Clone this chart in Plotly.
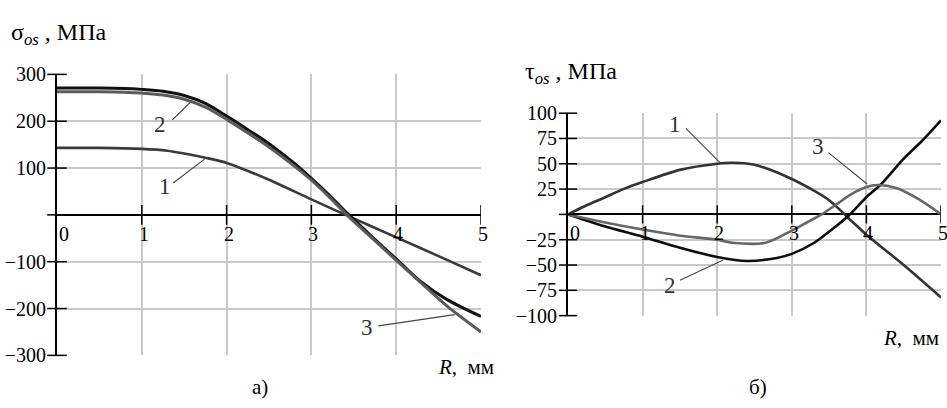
import plotly.graph_objects as go

# ---------------- data ----------------
# Panel a) sigma_os, MPa
R_a1 = [0, 0.5, 1.0, 1.3, 1.5, 1.75, 2.0, 2.5, 3.0, 3.43, 4.0, 4.5, 5.0]
sigma_1 = [143, 143, 141, 137, 131, 122, 111, 75, 33, -2, -48, -88, -129]

R_a23 = [0, 0.5, 0.8, 1.0, 1.25, 1.5, 1.75, 2.0, 2.2, 2.5, 2.8, 3.0, 3.2, 3.43, 3.7, 4.0, 4.28, 4.6, 5.0]
sigma_2 = [271, 271, 270, 268, 264, 255, 238, 211, 188, 152, 110, 78, 44, 2, -44, -94, -141, -181, -217]
sigma_3 = [263, 263, 262, 260, 256, 247, 230, 204, 181, 145, 104, 74, 40, -2, -47, -97, -143, -195, -250]

# Panel b) tau_os, MPa
R_b1 = [0, 0.25, 0.5, 0.74, 1.0, 1.5, 2.0, 2.2, 2.5, 3.0, 3.5, 3.75, 4.0, 4.5, 5.0]
tau_1 = [0, 9, 17, 25, 32, 44, 50, 51, 49, 35, 14, -3, -20, -50, -82]
R_b2 = [0, 0.5, 1.0, 1.5, 2.0, 2.4, 2.8, 3.0, 3.3, 3.5, 3.75, 4.0, 4.2, 4.5, 4.75, 5.0]
tau_2 = [0, -12, -22, -33, -42, -46, -43, -39, -28, -17, -2, 17, 30, 55, 73, 93]
R_b3 = [0, 0.5, 1.0, 1.5, 2.0, 2.2, 2.65, 3.0, 3.2, 3.4, 3.6, 3.8, 4.0, 4.15, 4.4, 4.7, 5.0]
tau_3 = [0, -8, -15, -21, -25, -28, -28, -16, -8, 0, 10, 20, 27, 29, 26, 15, 0]

# ticks
x_ticks = [0, 1, 2, 3, 4, 5]
ya_ticks = [-300, -200, -100, 100, 200, 300]
ya_ticktext = ["−300", "−200", "−100", "100", "200", "300"]
ya_marks = [-300, -200, -100, 0, 100, 200, 300]
yb_ticks = [-100, -75, -50, -25, 25, 50, 75, 100]
yb_ticktext = ["−100", "−75", "−50", "−25", "25", "50", "75", "100"]
yb_marks = [-100, -75, -50, -25, 0, 25, 50, 75, 100]

# curve labels: text, text position, leader start, leader end
labels_a = [
    ("1", (1.27, 60), (1.37, 68), (1.74, 119)),
    ("2", (1.21, 193), (1.36, 203), (1.57, 240)),
    ("3", (3.65, -241), (3.79, -237), (4.69, -213)),
]
labels_b = [
    ("1", (1.43, 89), (1.58, 85), (2.04, 51)),
    ("2", (1.37, -70), (1.50, -65), (2.08, -45)),
    ("3", (3.35, 67), (3.49, 61), (4.01, 30)),
]

SERIF = "Times New Roman, Liberation Serif, DejaVu Serif, serif"
GRID = "#c9c9c9"

fig = go.Figure()

def curve(x, y, color, width, xa, ya):
    fig.add_trace(go.Scatter(x=x, y=y, mode="lines", xaxis=xa, yaxis=ya,
                             line=dict(color=color, width=width, shape="spline", smoothing=0.8),
                             showlegend=False, hoverinfo="skip"))

# panel a curves
curve(R_a1, sigma_1, "#3a3a3a", 2.6, "x", "y")
curve(R_a23, sigma_2, "#111111", 3.0, "x", "y")
curve(R_a23, sigma_3, "#5a5a5a", 3.0, "x", "y")
# panel b curves
curve(R_b1, tau_1, "#333333", 2.6, "x2", "y2")
curve(R_b2, tau_2, "#0d0d0d", 2.6, "x2", "y2")
curve(R_b3, tau_3, "#666666", 2.6, "x2", "y2")

# crossing tick marks on axes
for xa, ya, yt, size in (("x", "y", ya_marks, 14), ("x2", "y2", yb_marks, 13)):
    fig.add_trace(go.Scatter(x=x_ticks[1:], y=[0] * (len(x_ticks) - 1), mode="markers",
                             xaxis=xa, yaxis=ya, showlegend=False, hoverinfo="skip",
                             marker=dict(symbol="line-ns", size=size, line=dict(color="black", width=1.5))))
    fig.add_trace(go.Scatter(x=[0] * len(yt), y=yt, mode="markers",
                             xaxis=xa, yaxis=ya, showlegend=False, hoverinfo="skip", cliponaxis=False,
                             marker=dict(symbol="line-ew", size=size, line=dict(color="black", width=1.5))))

annotations = []
# leader lines + label text
for labels, xa, ya in ((labels_a, "x", "y"), (labels_b, "x2", "y2")):
    for txt, tp, p0, p1 in labels:
        fig.add_trace(go.Scatter(x=[p0[0], p1[0]], y=[p0[1], p1[1]], mode="lines",
                                 xaxis=xa, yaxis=ya, showlegend=False, hoverinfo="skip",
                                 line=dict(color="#444444", width=1.1)))
        annotations.append(dict(x=tp[0], y=tp[1], xref=xa, yref=ya, text=txt, showarrow=False,
                                font=dict(family=SERIF, size=23, color="#333333")))

# x tick labels along the zero line
for xa, ya in (("x", "y"), ("x2", "y2")):
    for k in x_ticks:
        annotations.append(dict(x=k, y=0, xref=xa, yref=ya, text=str(k), showarrow=False,
                                xanchor="left", yanchor="top", xshift=(0 if k == 0 else -5), yshift=-6,
                                font=dict(family=SERIF, size=20, color="black")))

# axis titles and captions
annotations += [
    dict(x=9 / 947, y=1 - 24 / 408, xref="paper", yref="paper", xanchor="left", yanchor="middle",
         text="σ<sub><i>os</i></sub> , МПа", showarrow=False, font=dict(family=SERIF, size=24, color="black")),
    dict(x=523 / 947, y=1 - 66 / 408, xref="paper", yref="paper", xanchor="left", yanchor="middle",
         text="τ<sub><i>os</i></sub> , МПа", showarrow=False, font=dict(family=SERIF, size=24, color="black")),
    dict(x=436 / 947, y=1 - 376 / 408, xref="paper", yref="paper", xanchor="left", yanchor="middle",
         text="<i>R</i>,  мм", showarrow=False, bgcolor="white", font=dict(family=SERIF, size=21, color="black")),
    dict(x=881 / 947, y=1 - 346 / 408, xref="paper", yref="paper", xanchor="left", yanchor="middle",
         text="<i>R</i>,  мм", showarrow=False, font=dict(family=SERIF, size=21, color="black")),
    dict(x=260 / 947, y=1 - 397 / 408, xref="paper", yref="paper", xanchor="center", yanchor="middle",
         text="а)", showarrow=False, font=dict(family=SERIF, size=21, color="black")),
    dict(x=758 / 947, y=1 - 397 / 408, xref="paper", yref="paper", xanchor="center", yanchor="middle",
         text="б)", showarrow=False, font=dict(family=SERIF, size=21, color="black")),
]

xcommon = dict(range=[0, 5], tickvals=x_ticks, showticklabels=False, ticks="",
               showgrid=True, gridcolor=GRID, gridwidth=1.6, zeroline=False, showline=False)
ycommon = dict(showgrid=True, gridcolor=GRID, gridwidth=1.6, zeroline=True, zerolinecolor="black",
               zerolinewidth=2, showline=True, linecolor="black", linewidth=2, ticks="",
               tickfont=dict(family=SERIF, size=20, color="black"))

fig.update_layout(
    width=947, height=408, margin=dict(l=0, r=0, t=0, b=0),
    paper_bgcolor="white", plot_bgcolor="white", showlegend=False,
    font=dict(family=SERIF),
    xaxis=dict(domain=[57 / 947, 481 / 947], anchor="y", **xcommon),
    yaxis=dict(domain=[1 - 364 / 408, 1 - 67 / 408], anchor="x", range=[-300, 300],
               tickvals=ya_ticks, ticktext=ya_ticktext, ticklabelstandoff=5, **ycommon),
    xaxis2=dict(domain=[568 / 947, 941 / 947], anchor="y2", **xcommon),
    yaxis2=dict(domain=[1 - 322 / 408, 1 - 108 / 408], anchor="x2", range=[-100, 100],
                tickvals=yb_ticks, ticktext=yb_ticktext, ticklabelstandoff=5, **ycommon),
    annotations=annotations,
)

fig.write_html("out.html")
